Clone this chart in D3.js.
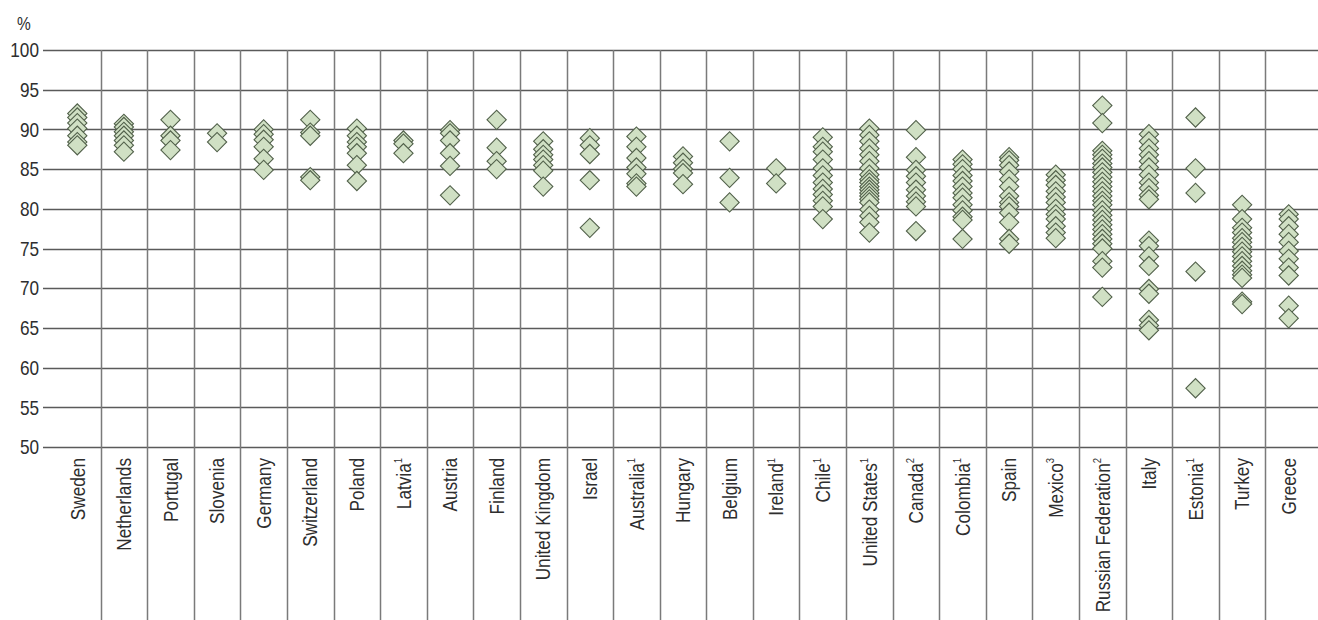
<!DOCTYPE html>
<html>
<head>
<meta charset="utf-8">
<script src="https://cdn.jsdelivr.net/npm/d3@7"></script>
<style>
  html, body { margin: 0; padding: 0; background: #fff; }
  svg { display: block; }
  text { font-family: "Liberation Sans", Arial, sans-serif; fill: #2e2e2e; }
</style>
</head>
<body>
<svg id="chart" width="1318" height="620"></svg>
<script>
// ---- Data ----
const categories = ["Sweden","Netherlands","Portugal","Slovenia","Germany","Switzerland","Poland","Latvia","Austria","Finland","United Kingdom","Israel","Australia","Hungary","Belgium","Ireland","Chile","United States","Canada","Colombia","Spain","Mexico","Russian Federation","Italy","Estonia","Turkey","Greece"];
const footnotes = ["","","","","","","","1","","","","","1","","","1","1","1","2","1","","3","2","","1","",""];

const yTicks = [50,55,60,65,70,75,80,85,90,95,100];

const values = [
  [92.0, 91.5, 90.8, 90.1, 89.2, 88.4, 88.0],                     // Sweden
  [90.7, 90.3, 89.7, 89.2, 88.6, 88.0, 87.2],                     // Netherlands
  [91.2, 89.2, 88.6, 87.4],                                       // Portugal
  [89.5, 88.4],                                                   // Slovenia
  [90.0, 89.4, 88.7, 87.8, 86.3, 84.9],                           // Germany
  [91.2, 89.6, 89.2, 84.0, 83.6],                                 // Switzerland
  [90.1, 89.2, 88.4, 87.8, 87.0, 85.5, 83.5],                     // Poland
  [88.6, 88.2, 87.0],                                             // Latvia
  [89.9, 89.5, 88.6, 87.0, 85.4, 81.7],                           // Austria
  [91.2, 87.7, 86.0, 85.0],                                       // Finland
  [88.5, 87.5, 86.8, 86.2, 85.5, 84.8, 82.8],                     // United Kingdom
  [88.9, 88.0, 86.9, 83.6, 77.6],                                 // Israel
  [89.1, 87.8, 86.4, 85.2, 84.4, 83.2, 82.8],                     // Australia
  [86.6, 85.8, 85.0, 84.5, 83.1],                                 // Hungary
  [88.5, 83.9, 80.8],                                             // Belgium
  [85.1, 83.2],                                                   // Ireland
  [89.0, 87.8, 87.2, 86.2, 85.1, 84.2, 83.3, 82.5, 81.8, 81.0, 80.3, 78.7], // Chile
  [90.1, 89.3, 88.5, 87.6, 86.8, 86.0, 85.1, 84.3, 83.7, 83.3, 82.8, 82.4, 82.0, 81.6, 81.2, 80.8, 79.9, 79.1, 78.3, 77.0], // United States
  [89.9, 86.5, 84.9, 84.1, 83.3, 82.4, 81.6, 80.9, 80.3, 77.2],   // Canada
  [86.2, 85.6, 85.0, 84.2, 83.5, 82.8, 82.0, 81.4, 80.5, 79.8, 79.0, 78.6, 76.2], // Colombia
  [86.5, 86.1, 85.5, 84.7, 83.7, 82.8, 81.6, 80.8, 80.3, 79.5, 78.3, 76.2, 75.6], // Spain
  [84.3, 83.6, 83.0, 82.2, 81.5, 80.8, 80.0, 79.3, 78.7, 77.8, 77.0, 76.3], // Mexico
  [93.0, 90.8, 87.3, 86.8, 86.3, 85.7, 85.2, 84.6, 84.0, 83.4, 82.8, 82.2, 81.6, 81.0, 80.5, 79.8, 79.2, 78.6, 78.0, 77.4, 76.8, 76.2, 75.6, 75.0, 73.4, 72.6, 68.9], // Russian Federation
  [89.4, 88.5, 87.6, 86.8, 86.0, 85.2, 84.3, 83.3, 82.6, 81.7, 81.2, 76.0, 75.3, 74.0, 72.8, 69.9, 69.3, 66.0, 65.3, 64.7], // Italy
  [91.5, 85.1, 82.0, 72.1, 57.4],                                 // Estonia
  [80.5, 78.7, 77.6, 77.0, 76.3, 75.8, 75.2, 74.6, 74.0, 73.4, 72.8, 72.2, 71.7, 71.3, 68.3, 68.0], // Turkey
  [79.3, 78.7, 77.8, 76.8, 75.8, 74.7, 73.7, 72.6, 71.6, 67.8, 66.2] // Greece
];

// ---- Layout ----
const W = 1318, H = 620;
const narrow = 0.86;
const svg = d3.select("#chart");

const x = d3.scaleBand().domain(categories).range([54, 1312]).padding(0);
const y = d3.scaleLinear().domain([50, 100]).range([447, 50]);

// horizontal gridlines
svg.append("g").selectAll("line").data(yTicks).join("line")
  .attr("x1", 43).attr("x2", W)
  .attr("y1", d => Math.round(y(d)) + 0.5).attr("y2", d => Math.round(y(d)) + 0.5)
  .attr("stroke", "#5a5a5a").attr("stroke-width", 1.5);

// vertical separators between categories
svg.append("g").selectAll("line").data(categories.slice(1)).join("line")
  .attr("x1", d => Math.round(x(d)) + 0.5).attr("x2", d => Math.round(x(d)) + 0.5)
  .attr("y1", y(100)).attr("y2", H)
  .attr("stroke", "#7a7a7a").attr("stroke-width", 1.5);

// y tick labels
svg.append("g").selectAll("text").data(yTicks).join("text")
  .attr("transform", d => `translate(39,${y(d)}) scale(${narrow},1)`)
  .attr("dy", "0.36em")
  .attr("text-anchor", "end")
  .attr("font-size", 20)
  .text(d => d);

svg.append("text").attr("transform", `translate(17,30) scale(${narrow},1)`)
  .attr("font-size", 18).text("%");

// category labels (rotated)
const lab = svg.append("g").selectAll("text").data(categories).join("text")
  .attr("transform", d => `translate(${x(d) + x.bandwidth() / 2},458) rotate(-90) scale(${narrow},1)`)
  .attr("text-anchor", "end").attr("dy", "0.36em")
  .attr("font-size", 20);
lab.append("tspan").text(d => d);
lab.append("tspan")
  .attr("font-size", 11).attr("dy", "-0.8em")
  .text((d, i) => footnotes[i]);

// diamonds
const sym = d3.symbol().type(d3.symbolSquare).size(185);
const pts = [];
categories.forEach((c, i) => values[i].forEach(v => pts.push({c, v})));
svg.append("g").selectAll("path").data(pts).join("path")
  .attr("d", sym)
  .attr("transform", d => `translate(${x(d.c) + x.bandwidth() / 2},${y(d.v)}) rotate(45)`)
  .attr("fill", "#d0e0c4")
  .attr("stroke", "#52614b")
  .attr("stroke-width", 1.1);
</script>
</body>
</html>
